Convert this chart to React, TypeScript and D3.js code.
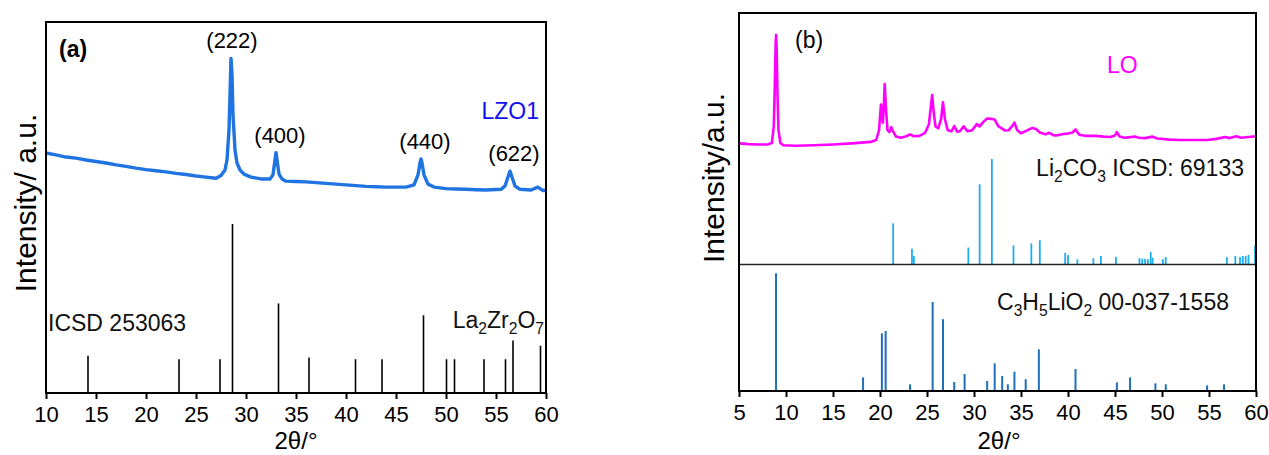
import React, { useEffect, useRef } from 'react';
import * as d3 from 'd3';

const FONT = "Arial, 'Liberation Sans', sans-serif";

// ---- panel (a) ----
const xTicksA = [10, 15, 20, 25, 30, 35, 40, 45, 50, 55, 60];

// LZO1 measured pattern [2theta, intensity a.u.]
const lzo1Pattern: [number, number][] = [
  [10, 64.7], [11, 64.2], [12, 63.6], [13, 63.3], [14, 62.8], [15, 62.4], [16, 62.0], [17, 61.5],
  [18, 61.1], [19, 60.6], [20, 60.2], [21, 59.9], [22, 59.6], [23, 59.2], [24, 58.9], [25, 58.5],
  [26, 58.2], [27, 57.9], [27.5, 58.6], [27.9, 60.1], [28.1, 62.8], [28.3, 70.9], [28.4, 80.3],
  [28.5, 90.2], [28.6, 85.7], [28.7, 74.9], [28.9, 65.5], [29.1, 62.0], [29.4, 60.1], [29.8, 59.0],
  [30.5, 58.2], [31.5, 57.7], [32.4, 57.7], [32.7, 58.8], [32.9, 62.8], [33.0, 64.8], [33.1, 62.8],
  [33.3, 59.0], [33.6, 57.7], [34, 57.1], [35, 57.0], [36, 56.9], [37, 56.7], [38, 56.5], [39, 56.3],
  [40, 56.1], [41, 55.9], [42, 55.7], [43, 55.6], [44, 55.5], [45, 55.5], [46, 55.5], [46.8, 56.1],
  [47.2, 58.8], [47.4, 62.0], [47.5, 63.1], [47.6, 62.0], [47.8, 58.8], [48.2, 56.3], [48.8, 55.5],
  [50, 55.1], [51, 55.0], [52, 54.9], [53, 54.8], [54, 54.7], [55.5, 54.9], [55.9, 55.8], [56.2, 58.2],
  [56.4, 59.8], [56.6, 58.2], [56.9, 55.8], [57.4, 54.9], [58.5, 54.7], [59.0, 55.3], [59.2, 55.5],
  [59.4, 55.1], [59.7, 54.6], [60, 54.6],
];

// ICSD 253063 La2Zr2O7 reference lines [2theta, rel. intensity]
const la2zr2o7Sticks: [number, number][] = [
  [14.2, 22], [23.3, 20], [27.4, 20], [28.65, 100], [33.25, 53], [36.3, 21], [40.95, 20], [43.6, 20],
  [47.75, 46], [50.05, 20], [50.85, 20], [53.8, 20], [55.95, 20], [56.7, 31], [59.45, 28],
];

const peakLabels: [string, number, number][] = [
  ['(222)', 28.5, 90.2],
  ['(400)', 33.0, 64.8],
  ['(440)', 47.5, 63.1],
  ['(622)', 56.4, 59.8],
];

// ---- panel (b) ----
const xTicksB = [5, 10, 15, 20, 25, 30, 35, 40, 45, 50, 55, 60];

// LO measured pattern [2theta, intensity a.u.]
const loPattern: [number, number][] = [
  [5, 65.5], [6, 65.3], [7, 65.2], [8, 65.2], [8.5, 65.6], [8.7, 70], [8.8, 80], [8.9, 92], [8.95, 94.2],
  [9.0, 91], [9.1, 78], [9.2, 69], [9.4, 65.6], [9.7, 65.0], [11, 64.9], [13, 65.0], [15, 65.2],
  [17, 65.5], [19, 65.9], [19.6, 66.4], [19.9, 69], [20.1, 75.8], [20.3, 71], [20.4, 75], [20.5, 81.2],
  [20.65, 74], [20.8, 69], [21.0, 68.5], [21.2, 69.8], [21.4, 68.6], [21.7, 67.3], [22.2, 67.0],
  [22.8, 67.4], [23.2, 67.9], [23.6, 67.4], [24.2, 67.5], [24.8, 68.3], [25.2, 70.5], [25.4, 75],
  [25.55, 78.3], [25.7, 74], [25.9, 70], [26.2, 69.5], [26.5, 72], [26.7, 76.4], [26.9, 72], [27.2, 69.0],
  [27.6, 68.7], [27.9, 70.1], [28.2, 68.6], [28.5, 68.7], [28.9, 70.0], [29.3, 68.7], [29.8, 69.0],
  [30.3, 70.6], [30.6, 70.0], [31.0, 71.2], [31.4, 72.1], [31.8, 72.0], [32.2, 71.8], [32.6, 70.0],
  [33.0, 69.4], [33.3, 68.9], [33.7, 69.0], [34.1, 70.2], [34.3, 71.0], [34.6, 69.0], [35.0, 68.2],
  [35.6, 68.9], [36.2, 69.6], [36.6, 69.3], [37.0, 68.4], [37.6, 67.9], [38.0, 68.3], [38.5, 67.6],
  [39.0, 67.7], [39.5, 68.0], [40.0, 68.1], [40.5, 68.4], [40.8, 69.2], [41.2, 67.8], [41.8, 67.5],
  [42.5, 67.5], [43.0, 67.5], [43.8, 67.3], [44.5, 67.2], [45.0, 67.6], [45.2, 68.5], [45.5, 67.3],
  [46.0, 67.0], [47.1, 67.3], [47.5, 67.0], [48.2, 66.9], [49.0, 67.3], [49.5, 66.8], [50.8, 66.5],
  [52, 66.4], [53.5, 66.4], [54.8, 66.4], [55.8, 66.7], [56.7, 67.2], [57.2, 66.9], [57.9, 67.4],
  [58.4, 67.0], [59.2, 67.2], [60, 67.4],
];

// Li2CO3 ICSD 69133 [2theta, rel. intensity]
const li2co3Sticks: [number, number][] = [
  [21.4, 39], [23.4, 15], [23.6, 8], [29.4, 16], [30.6, 76], [31.9, 100], [34.2, 18], [36.1, 20],
  [37.0, 23], [39.7, 11], [40.0, 9], [41.0, 5], [42.7, 6], [43.5, 8], [45.1, 7], [47.6, 6], [47.9, 5.5],
  [48.2, 5.5], [48.5, 5], [48.8, 12], [49.0, 6.5], [50.1, 5], [50.4, 7], [56.9, 7], [57.8, 8], [58.3, 7],
  [58.6, 8], [58.9, 8], [59.2, 9], [59.9, 18],
];

// C3H5LiO2 00-037-1558 [2theta, rel. intensity]
const c3h5lio2Sticks: [number, number][] = [
  [8.94, 100], [18.2, 11.6], [20.2, 49], [20.6, 51], [23.2, 5.7], [25.6, 75.6], [26.7, 61], [27.9, 7.6],
  [29.0, 14.4], [31.4, 8.5], [32.2, 23.5], [33.0, 12.7], [33.6, 5.7], [34.3, 16.4], [35.5, 10],
  [36.9, 35.4], [40.8, 18.7], [45.2, 7.4], [46.6, 11.6], [49.3, 6.5], [50.4, 5.7], [54.8, 4.8], [56.6, 5.7],
];

type Seg = [string, boolean];

function addSubText(g: any, x: number, y: number, segs: Seg[], size: number, anchor = 'end') {
  const t = g.append('text').attr('x', x).attr('y', y).attr('text-anchor', anchor)
    .attr('font-family', FONT).attr('font-size', size).attr('fill', '#111');
  let lowered = false;
  segs.forEach(([s, sub]) => {
    const ts = t.append('tspan').text(s);
    if (sub && !lowered) { ts.attr('dy', 6).attr('font-size', size * 0.68); lowered = true; }
    else if (sub) ts.attr('font-size', size * 0.68);
    else if (lowered) { ts.attr('dy', -6); lowered = false; }
  });
}

export default function App() {
  const svgRef = useRef<SVGSVGElement>(null);

  useEffect(() => {
    const svg = d3.select(svgRef.current);
    svg.selectAll('*').remove();

    const drawAxis = (g: any, x: any, ticks: number[], y0: number) => {
      const ax = g.append('g').attr('transform', `translate(0,${y0})`)
        .call(d3.axisBottom(x).tickValues(ticks).tickSize(6).tickPadding(7).tickFormat(d3.format('d')));
      ax.select('.domain').remove();
      ax.selectAll('line').attr('stroke', '#000').attr('stroke-width', 2);
      ax.selectAll('text').attr('font-family', FONT).attr('font-size', 22).attr('fill', '#000');
    };

    // ================= panel (a) =================
    const gA = svg.append('g');
    const xA = d3.scaleLinear().domain([10, 60]).range([46, 546]);
    const yA = d3.scaleLinear().domain([0, 100]).range([393, 22]);
    const yRefA = d3.scaleLinear().domain([0, 100]).range([393, 224]);

    gA.selectAll('line.stick').data(la2zr2o7Sticks).join('line').attr('class', 'stick')
      .attr('x1', d => xA(d[0])).attr('x2', d => xA(d[0]))
      .attr('y1', yRefA(0)).attr('y2', d => yRefA(d[1]))
      .attr('stroke', '#000').attr('stroke-width', 1.6);

    const lineA = d3.line<[number, number]>().x(d => xA(d[0])).y(d => yA(d[1]));
    gA.append('path').datum(lzo1Pattern).attr('d', lineA).attr('fill', 'none')
      .attr('stroke', '#1f74e2').attr('stroke-width', 3.4).attr('stroke-linejoin', 'round');

    gA.append('rect').attr('x', 46).attr('y', 22).attr('width', 500).attr('height', 371)
      .attr('fill', 'none').attr('stroke', '#000').attr('stroke-width', 2);
    drawAxis(gA, xA, xTicksA, 393);

    peakLabels.forEach(([lab, t, v], i) => {
      gA.append('text').attr('x', xA(t) + (i === 0 ? 1 : 4)).attr('y', yA(v) - 10)
        .attr('text-anchor', 'middle').attr('font-family', FONT).attr('font-size', 22).attr('fill', '#000')
        .text(lab);
    });
    gA.append('text').attr('x', 59).attr('y', 57).attr('font-family', FONT).attr('font-size', 23)
      .attr('font-weight', 'bold').attr('fill', '#000').text('(a)');
    gA.append('text').attr('x', 539).attr('y', 119).attr('text-anchor', 'end').attr('font-family', FONT)
      .attr('font-size', 23).attr('fill', '#1010ee').text('LZO1');
    gA.append('text').attr('x', 48).attr('y', 331).attr('font-family', FONT).attr('font-size', 23)
      .attr('fill', '#111').text('ICSD 253063');
    addSubText(gA, 544, 328, [['La', false], ['2', true], ['Zr', false], ['2', true], ['O', false], ['7', true]], 23);

    gA.append('text').attr('transform', 'translate(36,203) rotate(-90)').attr('text-anchor', 'middle')
      .attr('font-family', FONT).attr('font-size', 30).attr('fill', '#000').text('Intensity/ a.u.');
    gA.append('text').attr('x', 296).attr('y', 449).attr('text-anchor', 'middle')
      .attr('font-family', FONT).attr('font-size', 24).attr('fill', '#000').text('2θ/°');

    // ================= panel (b) =================
    const gB = svg.append('g');
    const xB = d3.scaleLinear().domain([5, 60]).range([739, 1256]);
    const yB = d3.scaleLinear().domain([0, 100]).range([391, 13]);
    const yLi = d3.scaleLinear().domain([0, 100]).range([264.5, 159]);
    const yC = d3.scaleLinear().domain([0, 100]).range([391, 273.3]);

    gB.selectAll('line.li').data(li2co3Sticks).join('line').attr('class', 'li')
      .attr('x1', d => xB(d[0])).attr('x2', d => xB(d[0]))
      .attr('y1', yLi(0)).attr('y2', d => yLi(d[1]))
      .attr('stroke', '#1aaef0').attr('stroke-width', 1.8);
    gB.selectAll('line.c3').data(c3h5lio2Sticks).join('line').attr('class', 'c3')
      .attr('x1', d => xB(d[0])).attr('x2', d => xB(d[0]))
      .attr('y1', yC(0)).attr('y2', d => yC(d[1]))
      .attr('stroke', '#1f6fba').attr('stroke-width', 2);

    gB.append('line').attr('x1', 739).attr('x2', 1256).attr('y1', yLi(0)).attr('y2', yLi(0))
      .attr('stroke', '#222').attr('stroke-width', 1.3);

    const lineB = d3.line<[number, number]>().x(d => xB(d[0])).y(d => yB(d[1]));
    gB.append('path').datum(loPattern).attr('d', lineB).attr('fill', 'none')
      .attr('stroke', '#ff00ff').attr('stroke-width', 2.6).attr('stroke-linejoin', 'round');

    gB.append('rect').attr('x', 739).attr('y', 13).attr('width', 517).attr('height', 378)
      .attr('fill', 'none').attr('stroke', '#000').attr('stroke-width', 2);
    drawAxis(gB, xB, xTicksB, 391);

    gB.append('text').attr('x', 795).attr('y', 48).attr('font-family', FONT).attr('font-size', 23)
      .attr('fill', '#000').text('(b)');
    gB.append('text').attr('x', 1107).attr('y', 73).attr('font-family', FONT).attr('font-size', 23)
      .attr('fill', '#ff00ff').text('LO');
    addSubText(gB, 1244, 176, [['Li', false], ['2', true], ['CO', false], ['3', true], [' ICSD: 69133', false]], 23);
    addSubText(gB, 1229, 310, [['C', false], ['3', true], ['H', false], ['5', true], ['LiO', false], ['2', true], [' 00-037-1558', false]], 23);

    gB.append('text').attr('transform', 'translate(724,178) rotate(-90)').attr('text-anchor', 'middle')
      .attr('font-family', FONT).attr('font-size', 30).attr('fill', '#000').text('Intensity/a.u.');
    gB.append('text').attr('x', 999).attr('y', 449).attr('text-anchor', 'middle')
      .attr('font-family', FONT).attr('font-size', 24).attr('fill', '#000').text('2θ/°');
  }, []);

  return (
    <div style={{ position: 'absolute', left: 0, top: 0, width: 1269, height: 455, background: '#fff' }}>
      <svg ref={svgRef} width={1269} height={455} style={{ display: 'block' }} />
    </div>
  );
}
